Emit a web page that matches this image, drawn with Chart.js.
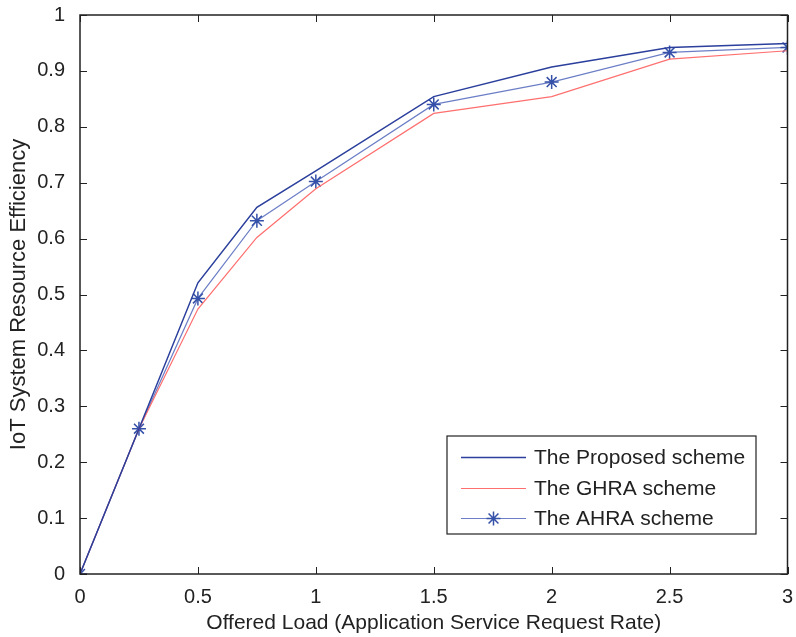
<!DOCTYPE html>
<html>
<head>
<meta charset="utf-8">
<script src="https://cdn.jsdelivr.net/npm/chart.js@4.4.0/dist/chart.umd.min.js"></script>
<style>
  body { margin: 0; background: #fff; }
  #wrap { width: 796px; height: 637px; }
</style>
</head>
<body>
<div id="wrap"><canvas id="chart-canvas" width="796" height="637"></canvas></div>
<script>
const loads = [0, 0.25, 0.5, 0.75, 1, 1.5, 2, 2.5, 3];
const proposed = [0, 0.26, 0.521, 0.656, 0.721, 0.854, 0.907, 0.942, 0.949];
const ghra = [0, 0.26, 0.474, 0.602, 0.689, 0.824, 0.854, 0.921, 0.936];
const ahra = [0, 0.26, 0.493, 0.632, 0.702, 0.840, 0.880, 0.933, 0.942];
const legendLabels = ['The Proposed scheme', 'The GHRA scheme', 'The AHRA scheme'];

const FONT = '"Liberation Sans", Arial, Helvetica, sans-serif';

function pts(ys) {
    return loads.map((x, i) => ({ x: x, y: ys[i] }));
}

// matlab style box with inward ticks on all sides
const frame = {
    id: 'frame',
    afterDatasetsDraw(chart) {
        const { ctx, chartArea: a, scales } = chart;
        ctx.save();
        ctx.strokeStyle = '#222';
        ctx.lineWidth = 1.5;
        ctx.strokeRect(a.left, a.top, a.right - a.left, a.bottom - a.top);
        ctx.lineWidth = 1;
        const len = 7;
        ctx.beginPath();
        scales.x.ticks.forEach(t => {
            const px = Math.round(scales.x.getPixelForValue(t.value)) + 0.5;
            ctx.moveTo(px, a.bottom); ctx.lineTo(px, a.bottom - len);
            ctx.moveTo(px, a.top); ctx.lineTo(px, a.top + len);
        });
        scales.y.ticks.forEach(t => {
            const py = Math.round(scales.y.getPixelForValue(t.value)) + 0.5;
            ctx.moveTo(a.left, py); ctx.lineTo(a.left + len, py);
            ctx.moveTo(a.right, py); ctx.lineTo(a.right - len, py);
        });
        ctx.stroke();
        ctx.restore();
    }
};

// legend box inside the plot, lower right
const boxLegend = {
    id: 'boxLegend',
    afterDraw(chart) {
        const ctx = chart.ctx;
        const bx = 447, by = 436, bw = 309, bh = 98;
        ctx.save();
        ctx.fillStyle = '#fff';
        ctx.fillRect(bx, by, bw, bh);
        ctx.strokeStyle = '#222';
        ctx.lineWidth = 1.2;
        ctx.strokeRect(bx, by, bw, bh);
        ctx.font = '21px ' + FONT;
        ctx.textBaseline = 'middle';
        chart.data.datasets.forEach((ds, i) => {
            const y = Math.round(by + 21 + i * 30.5) + 0.5;
            ctx.strokeStyle = ds.borderColor;
            ctx.lineWidth = ds.borderWidth;
            ctx.beginPath();
            ctx.moveTo(bx + 14, y); ctx.lineTo(bx + 79, y);
            ctx.stroke();
            if (ds.pointRadius > 0) {
                ctx.strokeStyle = ds.pointBorderColor;
                ctx.fillStyle = ds.pointBackgroundColor;
                ctx.lineWidth = ds.pointBorderWidth;
                Chart.helpers.drawPoint(ctx, {
                    pointStyle: ds.pointStyle, radius: ds.pointRadius, borderWidth: ds.pointBorderWidth
                }, bx + 46.5, y);
            }
            ctx.fillStyle = '#222';
            ctx.fillText(legendLabels[i], bx + 87, y + 1);
        });
        ctx.restore();
    }
};

const data = {
    datasets: [{
        label: legendLabels[0],
        data: pts(proposed),
        borderColor: '#2b3f9c',
        borderWidth: 1.5,
        pointRadius: 0,
        tension: 0
    }, {
        label: legendLabels[1],
        data: pts(ghra),
        borderColor: '#ff6f6f',
        borderWidth: 1.2,
        pointRadius: 0,
        tension: 0
    }, {
        label: legendLabels[2],
        data: pts(ahra),
        borderColor: '#6c7fc6',
        borderWidth: 1.2,
        pointStyle: 'star',
        pointRadius: 7,
        pointBorderWidth: 1.5,
        pointBorderColor: '#3450a8',
        pointBackgroundColor: '#3450a8',
        tension: 0
    }]
};

const fmt = v => String(+Number(v).toFixed(2));

const config = {
    type: 'line',
    data,
    options: {
        responsive: false,
        animation: false,
        layout: { padding: { left: 6, top: 15, right: 1, bottom: 1 } },
        plugins: { legend: { display: false }, tooltip: { enabled: false } },
        scales: {
            x: {
                type: 'linear',
                min: 0, max: 3,
                grid: { display: false },
                border: { display: false },
                ticks: { stepSize: 0.5, padding: 3, color: '#222', font: { family: FONT, size: 20 }, callback: fmt, maxRotation: 0 },
                title: { display: true, text: 'Offered Load (Application Service Request Rate)', color: '#222', font: { family: FONT, size: 21 }, padding: { top: 1, bottom: 0 } },
                afterFit(s) { s.height = 62; s.paddingLeft = 0; s.paddingRight = 0; }
            },
            y: {
                min: 0, max: 1,
                grid: { display: false },
                border: { display: false },
                ticks: { stepSize: 0.1, padding: 7, color: '#222', font: { family: FONT, size: 20 }, callback: fmt },
                title: { display: true, text: 'IoT System Resource Efficiency', color: '#222', font: { family: FONT, size: 22 }, padding: { top: 0, bottom: 4 } },
                afterFit(s) { s.width = 74; s.paddingTop = 0; s.paddingBottom = 0; }
            }
        }
    },
    plugins: [frame, boxLegend]
};

let myChart = new Chart(document.getElementById('chart-canvas'), config);
</script>
</body>
</html>
